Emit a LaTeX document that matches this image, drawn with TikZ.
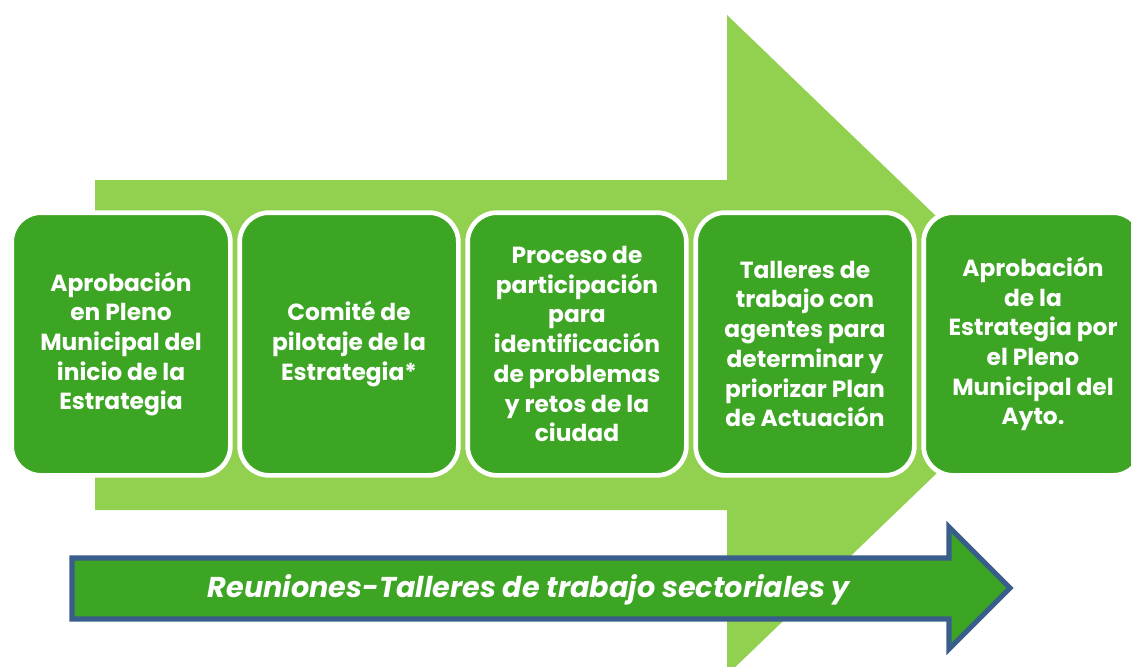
\documentclass[tikz,border=0pt]{standalone}
\usepackage{fontspec}
\setmainfont{Poppins}
\usetikzlibrary{positioning}
\definecolor{lightgreen}{RGB}{146,208,80}
\definecolor{darkgreen}{RGB}{61,165,36}
\definecolor{navy}{RGB}{58,94,140}
\tikzset{
  stage/.style={rectangle, rounded corners=22pt, draw=white, line width=3.5pt,
                fill=darkgreen, minimum width=164pt, minimum height=197pt,
                align=center, text=white, inner sep=2pt,
                font=\fontsize{17.5}{22.3}\selectfont\bfseries},
  bigarrow/.style={fill=lightgreen},
  lowarrow/.style={fill=darkgreen, draw=navy, line width=3.8pt, line join=miter},
}
\begin{document}
\begin{tikzpicture}[x=0.75pt, y=-0.75pt]
        \useasboundingbox (0,0) rectangle (1131,667);
        % background arrow
        \fill[bigarrow] (95,180) -- (727,180) -- (727,15) -- (1070,345)
          -- (727,675) -- (727,510) -- (95,510) -- cycle;
        % stages
        \node[stage] (s1) at (121,344) {Aprobación\\en Pleno\\Municipal del\\inicio de la\\Estrategia};
        \node[stage, right=3.5pt of s1] (s2) {Comité de\\pilotaje de la\\Estrategia*};
        \node[stage, right=3.5pt of s2] (s3) {Proceso de\\participación\\para\\identificación\\de problemas\\y retos de la\\ciudad};
        \node[stage, right=3.5pt of s3] (s4) {Talleres de\\trabajo con\\agentes para\\determinar y\\priorizar Plan\\de Actuación};
        \node[stage, right=3.5pt of s4] (s5) {Aprobación\\de la\\Estrategia por\\el Pleno\\Municipal del\\Ayto.};
        % lower arrow
        \draw[lowarrow] (72,558) -- (949,558) -- (949,527) -- (1010,588)
          -- (949,649) -- (949,619) -- (72,619) -- cycle;
        \node[text=white, font=\fontsize{21.5}{24}\selectfont\bfseries\itshape]
          (meet) at (529,590) {Reuniones-Talleres de trabajo sectoriales y};
      \end{tikzpicture}
\end{document}
